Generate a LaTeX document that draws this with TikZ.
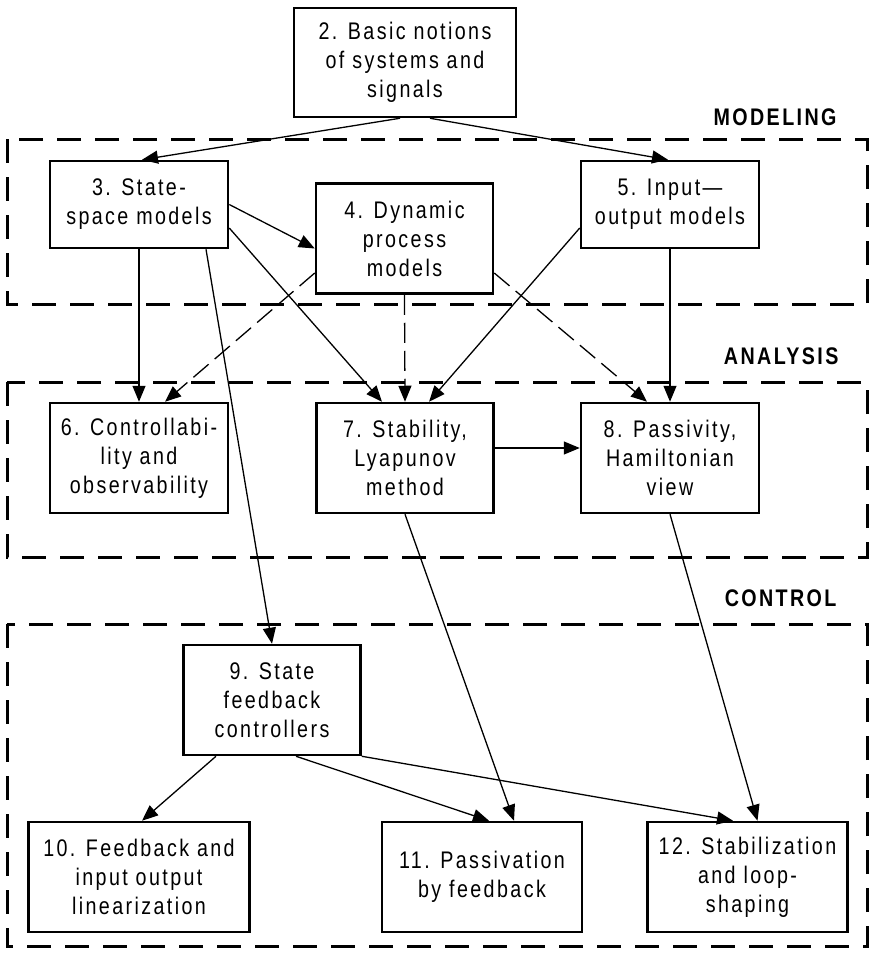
\documentclass[tikz,border=0pt]{standalone}
\usepackage{fontspec}
\setmainfont{Liberation Sans}[FakeStretch=0.82,LetterSpace=10]
\usetikzlibrary{arrows.meta}
\tikzset{
    chap/.style={draw,line width=2.5pt,anchor=center,align=center,inner sep=0pt,
        font=\fontsize{24}{29}\selectfont},
    stage/.style={draw,line width=3pt,dash pattern=on 24pt off 14pt},
    stagename/.style={anchor=east,font=\fontsize{24}{28}\selectfont\bfseries},
    link/.style={line width=1.3pt,-{Triangle[length=16pt,width=13pt]}},
    hint/.style={link,dash pattern=on 20pt off 8pt}
}
\begin{document}
\begin{tikzpicture}[x=1pt,y=-1pt]
    \useasboundingbox (0,0) rectangle (870,955);
    %% stages
    \draw[stage] (7,139) rectangle (867,304);
    \draw[stage] (7,382) rectangle (867,557);
    \draw[stage] (7,624) rectangle (867,946);
    \node[stagename] (lmod) at (840,117) {MODELING};
    \node[stagename] (lana) at (842,356) {ANALYSIS};
    \node[stagename] (lcon) at (840,598) {CONTROL};
    %% chapters
    \node[chap,minimum width=222pt,minimum height=109pt] (n2) at (405,62.5) {2. Basic notions\\of systems and\\signals};
    \node[chap,minimum width=178pt,minimum height=87pt] (n3) at (139,204.5) {3. State-\\space models};
    \node[chap,minimum width=177pt,minimum height=110pt] (n4) at (404.5,238.5) {4. Dynamic\\process\\models};
    \node[chap,minimum width=178pt,minimum height=87pt] (n5) at (670,204.5) {5. Input—\\output models};
    \node[chap,minimum width=178pt,minimum height=110pt] (n6) at (139,458) {6. Controllabi-\\lity and\\observability};
    \node[chap,minimum width=177pt,minimum height=110pt] (n7) at (405,458) {7. Stability,\\Lyapunov\\method};
    \node[chap,minimum width=178pt,minimum height=110pt] (n8) at (670,458) {8. Passivity,\\Hamiltonian\\view};
    \node[chap,minimum width=177pt,minimum height=110pt] (n9) at (272,700) {9. State\\feedback\\controllers};
    \node[chap,minimum width=221pt,minimum height=110pt] (n10) at (139,877) {10. Feedback and\\input output\\linearization};
    \node[chap,minimum width=200pt,minimum height=110pt] (n11) at (482,877) {11. Passivation\\by feedback};
    \node[chap,minimum width=200pt,minimum height=110pt] (n12) at (747.5,877) {12. Stabilization\\and loop-\\shaping};
    %% modeling
    \draw[link] ([xshift=-5pt]n2.south) -- ([xshift=3pt]n3.north);
    \draw[link] ([xshift=25pt]n2.south) -- ([xshift=-2pt]n5.north);
    \draw[link] (n3.east) -- ([yshift=-10pt]n4.west);
    %% analysis
    \draw[link] (n3.south) -- (n6.north);
    \draw[hint] ([yshift=-34.5pt]n4.west) -- ([xshift=26pt]n6.north);
    \draw[link] ([yshift=-23.5pt]n3.east) -- ([xshift=-23pt]n7.north);
    \draw[hint] (n4.south) -- (n7.north);
    \draw[link] ([yshift=-23.5pt]n5.west) -- ([xshift=24pt]n7.north);
    \draw[hint] ([yshift=-34.5pt]n4.east) -- ([xshift=-23pt]n8.north);
    \draw[link] (n5.south) -- (n8.north);
    \draw[link] ([yshift=10pt]n7.east) -- ([yshift=10pt]n8.west);
    %% control
    \draw[link] ([xshift=67pt]n3.south) -- (n9.north);
    \draw[link] (n7.south) -- ([xshift=32pt]n11.north);
    \draw[link] (n8.south) -- ([xshift=10pt]n12.north);
    \draw[link] ([xshift=-56pt]n9.south) -- ([xshift=3pt]n10.north);
    \draw[link] ([xshift=24pt]n9.south) -- ([xshift=7pt]n11.north);
    \draw[link] (n9.south east) -- ([xshift=-14.5pt]n12.north);
\end{tikzpicture}
\end{document}
